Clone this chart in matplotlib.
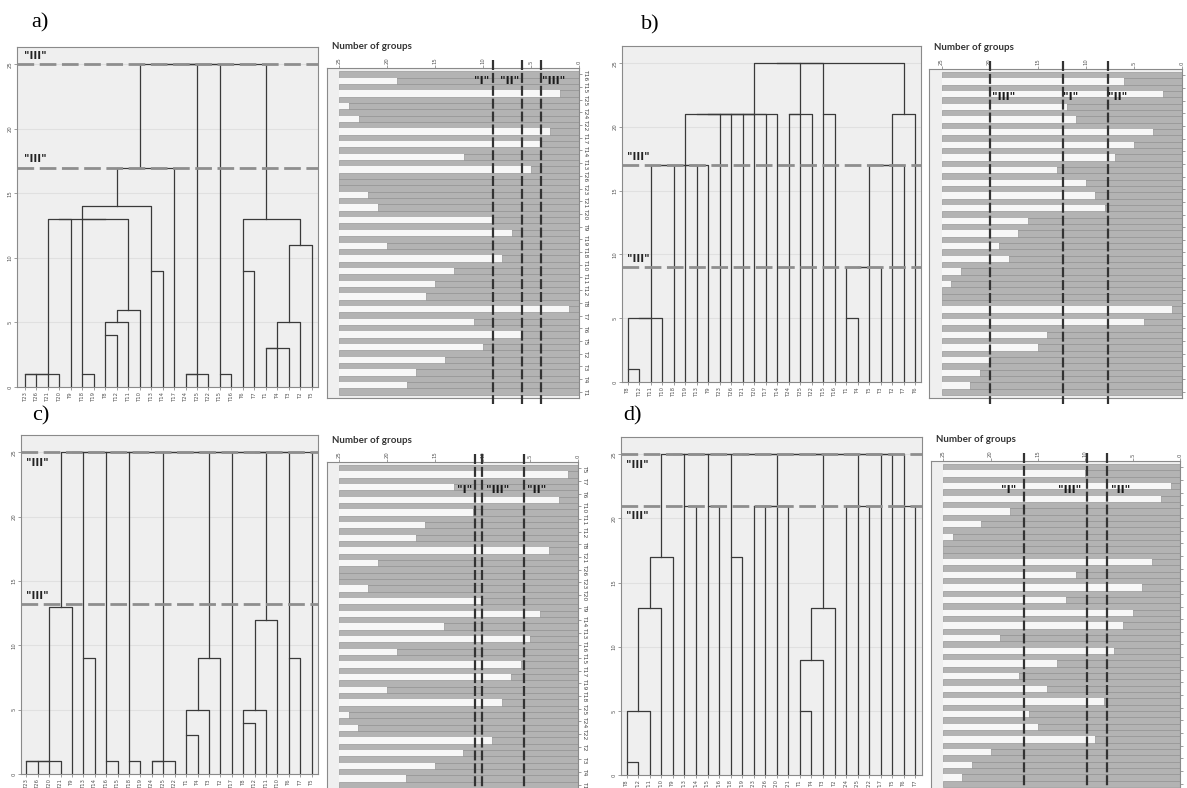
import matplotlib.pyplot as plt

# ---------------- dendrograms ----------------
# leaf order, left to right
leaves_a = ['T23', 'T26', 'T21', 'T20', 'T9', 'T18', 'T19', 'T8', 'T12', 'T11', 'T10', 'T13', 'T14',
            'T17', 'T24', 'T25', 'T22', 'T15', 'T16', 'T6', 'T7', 'T1', 'T4', 'T3', 'T2', 'T5']
leaves_b = ['T8', 'T12', 'T11', 'T10', 'T18', 'T19', 'T13', 'T9', 'T23', 'T26', 'T21', 'T20', 'T17',
            'T14', 'T24', 'T25', 'T22', 'T15', 'T16', 'T1', 'T4', 'T5', 'T3', 'T2', 'T7', 'T6']
leaves_c = ['T23', 'T26', 'T20', 'T21', 'T9', 'T13', 'T14', 'T16', 'T15', 'T18', 'T19', 'T24', 'T25',
            'T22', 'T1', 'T4', 'T3', 'T2', 'T17', 'T8', 'T12', 'T11', 'T10', 'T6', 'T7', 'T5']
leaves_d = ['T8', 'T12', 'T11', 'T10', 'T9', 'T13', 'T14', 'T15', 'T16', 'T18', 'T19', 'T23', 'T26',
            'T20', 'T21', 'T1', 'T4', 'T3', 'T2', 'T24', 'T25', 'T22', 'T17', 'T5', 'T6', 'T7']

# merges: (first leaf, first leaf of right part, last leaf, distance), leaves counted from 1
merges_a = [(1, 2, 2, 1), (1, 3, 3, 1), (1, 4, 4, 1), (6, 7, 7, 1),
            (8, 9, 9, 4), (8, 10, 10, 5), (8, 11, 11, 6),
            (1, 5, 5, 13), (6, 8, 11, 13), (1, 6, 11, 13),
            (12, 13, 13, 9), (1, 12, 13, 14), (1, 14, 14, 17),
            (15, 16, 16, 1), (15, 17, 17, 1), (18, 19, 19, 1), (20, 21, 21, 9),
            (22, 23, 23, 3), (22, 24, 24, 3), (22, 25, 25, 5), (22, 26, 26, 11),
            (20, 22, 26, 13),
            (1, 15, 17, 25), (1, 18, 19, 25), (1, 20, 26, 25)]
merges_b = [(1, 2, 2, 1), (1, 3, 3, 5), (1, 4, 4, 5),
            (6, 7, 7, 17), (5, 6, 7, 17), (1, 5, 7, 17), (1, 8, 8, 17),
            (1, 9, 9, 21), (1, 10, 10, 21), (1, 11, 11, 21), (1, 12, 12, 21),
            (1, 13, 13, 21), (1, 14, 14, 21),
            (15, 16, 16, 21), (15, 17, 17, 21), (18, 19, 19, 21),
            (20, 21, 21, 5), (20, 22, 22, 9), (20, 23, 23, 9),
            (20, 24, 24, 17), (20, 25, 25, 17), (20, 26, 26, 21),
            (1, 15, 17, 25), (1, 18, 19, 25), (1, 20, 26, 25)]
merges_c = [(1, 2, 2, 1), (1, 3, 3, 1), (1, 4, 4, 1), (1, 5, 5, 13),
            (6, 7, 7, 9), (8, 9, 9, 1), (10, 11, 11, 1),
            (12, 13, 13, 1), (12, 14, 14, 1),
            (15, 16, 16, 3), (15, 17, 17, 5), (15, 18, 18, 9),
            (20, 21, 21, 4), (20, 22, 22, 5), (20, 23, 23, 12),
            (24, 25, 25, 9),
            (1, 6, 7, 25), (1, 8, 9, 25), (1, 10, 11, 25), (1, 12, 14, 25), (1, 15, 18, 25),
            (1, 19, 19, 25), (1, 20, 23, 25), (1, 24, 25, 25), (1, 26, 26, 25)]
merges_d = [(1, 2, 2, 1), (1, 3, 3, 5), (1, 4, 4, 13), (1, 5, 5, 17),
            (6, 7, 7, 21), (8, 9, 9, 21), (10, 11, 11, 17),
            (12, 13, 13, 21), (12, 14, 14, 21), (12, 15, 15, 21),
            (16, 17, 17, 5), (16, 18, 18, 9), (16, 19, 19, 13),
            (20, 21, 21, 21), (20, 22, 22, 21), (25, 26, 26, 21),
            (1, 6, 7, 25), (1, 8, 9, 25), (1, 10, 11, 25), (1, 12, 15, 25), (1, 16, 19, 25),
            (1, 20, 22, 25), (1, 23, 23, 25), (1, 24, 24, 25), (1, 25, 26, 25)]

cuts_a = [25, 17]
cuts_b = [17, 9]
cuts_c = [25, 13.2]
cuts_d = [25, 21]

# ---------------- icicle plots ----------------
icicle_labels_a = ['T16', 'T15', 'T25', 'T24', 'T22', 'T17', 'T14', 'T13', 'T26', 'T23', 'T21', 'T20', 'T9',
                   'T19', 'T18', 'T10', 'T11', 'T12', 'T8', 'T7', 'T6', 'T5', 'T2', 'T3', 'T4', 'T1']
icicle_labels_c = ['T5', 'T7', 'T6', 'T10', 'T11', 'T12', 'T8', 'T21', 'T26', 'T23', 'T20', 'T9', 'T14',
                   'T13', 'T16', 'T15', 'T17', 'T19', 'T18', 'T25', 'T24', 'T22', 'T2', 'T3', 'T4', 'T1']
# number of groups at which two neighbouring cases are joined (top to bottom)
joins_a = [19, 2, 24, 23, 3, 4, 12, 5, 25, 22, 21, 9, 7, 20, 8, 13, 15, 16, 1, 11, 6, 10, 14, 17, 18]
joins_b = [6, 2, 12, 11, 3, 5, 7, 13, 10, 9, 8, 16, 17, 19, 18, 23, 24, 25, 1, 4, 14, 15, 20, 21, 22]
joins_c = [1, 13, 2, 11, 16, 17, 3, 21, 25, 22, 10, 4, 14, 5, 19, 6, 7, 20, 8, 24, 23, 9, 12, 15, 18]
joins_d = [10, 1, 2, 18, 21, 24, 25, 3, 11, 4, 12, 5, 6, 19, 7, 13, 17, 14, 8, 16, 15, 9, 20, 22, 23]

group_cuts_a = [9, 6, 4]
group_cuts_b = [20, 12.4, 7.7]
group_cuts_c = [10.75, 10.1, 5.7]
group_cuts_d = [16.5, 9.85, 7.7]

LINE = '#3a3a3a'
BG = '#efefef'
GRAY = '#b3b3b3'
LIGHT = '#f7f7f7'


def dendrogram(ax, labels, merges, cuts, sides, xlim):
    n = len(labels)
    nodes = {(i, i): (i, 0.0) for i in range(1, n + 1)}
    for lo, mid, hi, h in merges:
        xl, hl = nodes.pop((lo, mid - 1))
        xr, hr = nodes.pop((mid, hi))
        ax.plot([xl, xl, xr, xr], [hl, h, h, hr], color=LINE, lw=0.9, zorder=3)
        nodes[(lo, hi)] = ((xl + xr) // 2, h)
    for c, side in zip(cuts, sides):
        ax.axhline(c, color='#8e8e8e', lw=2, linestyle=(0, (6, 2)), zorder=4)
        if side == 'above':
            ax.text(0.95, c + 0.25, '"III"', fontsize=7.5, fontweight='bold', color='#222',
                    ha='left', va='bottom', zorder=5)
        else:
            ax.text(0.95, c - 0.45, '"III"', fontsize=7.5, fontweight='bold', color='#222',
                    ha='left', va='top', zorder=5)
    ax.set_facecolor(BG)
    ax.set_xlim(*xlim)
    ax.set_ylim(0, 26.35)
    ax.set_xticks(range(1, n + 1))
    ax.set_xticklabels(labels, rotation=90, fontsize=3.8, color='#555')
    ax.set_yticks([0, 5, 10, 15, 20, 25])
    ax.set_yticklabels(['0', '5', '10', '15', '20', '25'], rotation=90, fontsize=3.8,
                       color='#555', va='center')
    ax.tick_params(length=2, width=0.5, color='#777', pad=1)
    ax.yaxis.grid(True, color='#e0e0e0', lw=0.8)
    ax.set_axisbelow(True)
    for s in ax.spines.values():
        s.set_color('#8a8a8a')
        s.set_linewidth(0.8)


def icicle(ax, labels, joins, cuts, texts, text_row):
    n = len(joins) + 1
    for i in range(n):
        ax.barh(2 * i, 25, left=0, height=1, color=GRAY, edgecolor='#8c8c8c', lw=0.4)
    for k, v in enumerate(joins):
        y = 2 * k + 1
        ax.barh(y, v, left=0, height=1, color=GRAY, edgecolor='#8c8c8c', lw=0.4)
        ax.barh(y, 25 - v, left=v, height=1, color=LIGHT, lw=0)
    for c in cuts:
        ax.vlines(c, -2.3, 2 * n, colors='#333', lw=1.6, linestyles=[(0, (4.5, 1.3))],
                  clip_on=False, zorder=5)
    for t, x in texts:
        ax.text(x, text_row, t, fontsize=8, fontweight='bold', color='#1a1a1a',
                ha='center', va='center', zorder=6)
    ax.set_facecolor(BG)
    ax.set_xlim(26.3, 0)
    ax.set_ylim(2 * n - 1, -1)
    ax.xaxis.tick_top()
    ax.set_xticks([25, 20, 15, 10, 5, 0])
    ax.set_xticklabels(['25', '20', '15', '10', '5', '0'], rotation=90, fontsize=3.8, color='#555')
    ax.yaxis.tick_right()
    ax.set_yticks(range(0, 2 * n, 2))
    if labels:
        ax.set_yticklabels(labels, rotation=-90, fontsize=4.3, color='#444', va='center')
    else:
        ax.set_yticklabels([])
    ax.tick_params(length=2, width=0.5, color='#777', pad=1)
    ax.text(0.02, 1.065, 'Number of groups', transform=ax.transAxes, fontsize=7,
            fontweight='bold', family='Lato', color='#333', ha='left', va='center')
    for s in ax.spines.values():
        s.set_color('#8a8a8a')
        s.set_linewidth(0.8)


W, H = 1187, 788
fig = plt.figure(figsize=(W / 100, H / 100), dpi=100)


def box(l, t, r, b):
    return [l / W, 1 - b / H, (r - l) / W, (b - t) / H]


ax = fig.add_axes(box(17, 47, 318, 387))
dendrogram(ax, leaves_a, merges_a, cuts_a, ['above', 'above'], (0.3, 26.55))
ax = fig.add_axes(box(327, 68, 579, 398))
icicle(ax, icicle_labels_a, joins_a, group_cuts_a,
       [('"I"', 10.2), ('"II"', 7.2), ('"III"', 2.7)], 1.1)

ax = fig.add_axes(box(622, 46, 921, 382))
dendrogram(ax, leaves_b, merges_b, cuts_b, ['above', 'above'], (0.5, 26.5))
ax = fig.add_axes(box(929, 69, 1182, 398))
icicle(ax, None, joins_b, group_cuts_b,
       [('"III"', 18.5), ('"I"', 11.6), ('"II"', 6.7)], 3.4)

ax = fig.add_axes(box(21, 435, 318, 774))
dendrogram(ax, leaves_c, merges_c, cuts_c, ['below', 'above'], (0.54, 26.55))
ax = fig.add_axes(box(327, 462, 578, 791))
icicle(ax, icicle_labels_c, joins_c, group_cuts_c,
       [('"I"', 11.9), ('"III"', 8.4), ('"II"', 4.3)], 3.5)

ax = fig.add_axes(box(621, 437, 922, 775))
dendrogram(ax, leaves_d, merges_d, cuts_d, ['below', 'below'], (0.5, 26.58))
ax = fig.add_axes(box(931, 461, 1180, 790))
icicle(ax, None, joins_d, group_cuts_d,
       [('"I"', 18.1), ('"III"', 11.7), ('"II"', 6.3)], 3.6)

for lab, x, y in [('a)', 40, 23), ('b)', 650, 25), ('c)', 41, 416), ('d)', 633, 416)]:
    fig.text(x / W, 1 - y / H, lab, fontsize=16, family='Liberation Serif',
             ha='center', va='center')

fig.savefig('out.png', dpi=100)
